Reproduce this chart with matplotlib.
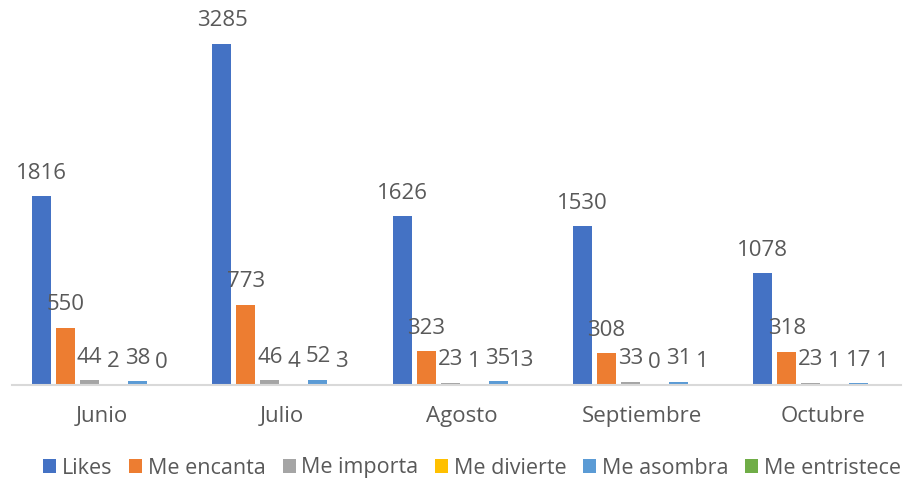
import numpy as np
import matplotlib.pyplot as plt

months = ['Junio', 'Julio', 'Agosto', 'Septiembre', 'Octubre']
reactions = ['Likes', 'Me encanta', 'Me importa', 'Me divierte', 'Me asombra', 'Me entristece']
likes = [1816, 3285, 1626, 1530, 1078]
encanta = [550, 773, 323, 308, 318]
importa = [44, 46, 23, 33, 23]
divierte = [2, 4, 1, 0, 1]
asombra = [38, 52, 35, 31, 17]
entristece = [0, 3, 13, 1, 1]

colors = ['#4472C4', '#ED7D31', '#A5A5A5', '#FFC000', '#5B9BD5', '#70AD47']
text_color = '#595959'

series = [likes, encanta, importa, divierte, asombra, entristece]

fig = plt.figure(figsize=(9.06, 4.84), dpi=100)
ax = fig.add_axes([11.5 / 906, 1 - 385 / 484, 890 / 906, 374 / 484])

x = np.arange(len(months))
pitch = 0.133
width = 0.105
for i, (name, vals, col) in enumerate(zip(reactions, series, colors)):
    pos = x + (i - 2.5) * pitch
    ax.bar(pos, vals, width=width, color=col, label=name)
    for p, v in zip(pos, vals):
        ax.annotate(str(v), xy=(p, v), xytext=(0, 9), textcoords='offset points',
                    ha='center', va='bottom', fontsize=16, color=text_color,
                    family='Open Sans')

# category width of ~180 px
ax.set_xlim(-0.5, -0.5 + 890 / 180.25)
ax.set_ylim(0, 3600)
ax.set_xticks(x)
ax.set_xticklabels(months, fontsize=16, color=text_color, family='Open Sans')
ax.tick_params(axis='x', length=0, pad=15)
ax.yaxis.set_visible(False)
ax.spines[['left', 'top', 'right']].set_visible(False)
ax.spines['bottom'].set_color('#D9D9D9')
ax.spines['bottom'].set_linewidth(1.5)

fig.legend(loc='center', bbox_to_anchor=(472 / 906, 1 - 468 / 484), ncol=6,
           frameon=False, handlelength=0.6, handleheight=0.6, handletextpad=0.25,
           columnspacing=0.8, prop={'family': 'Open Sans', 'size': 15.5},
           labelcolor=text_color)

plt.savefig('out.png', dpi=100)
plt.close()
